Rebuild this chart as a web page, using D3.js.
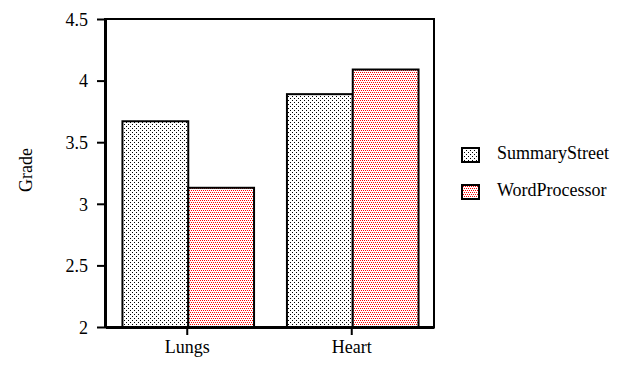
<!DOCTYPE html>
<html><head><meta charset="utf-8">
<script src="https://cdn.jsdelivr.net/npm/d3@7"></script>
<style>
html,body{margin:0;padding:0;background:#fff;}
text{font-family:"Liberation Serif","Times New Roman","DejaVu Serif",serif;font-size:18px;fill:#000;}
</style></head>
<body><svg id="c" width="644" height="367"></svg>
<script>
const categories = ["Lungs","Heart"];
const seriesNames = ["SummaryStreet","WordProcessor"];
const summaryStreet = [3.67, 3.89];
const wordProcessor = [3.13, 4.09];
const yTicks = [2, 2.5, 3, 3.5, 4, 4.5];
const yTickLabels = ["2","2.5","3","3.5","4","4.5"];

const FONT = '"Liberation Serif","Times New Roman","DejaVu Serif",serif';
const svg = d3.select("#c");
const defs = svg.append("defs");
const p1 = defs.append("pattern").attr("id","pSS").attr("patternUnits","userSpaceOnUse").attr("width",4).attr("height",4);
p1.append("rect").attr("width",4).attr("height",4).attr("fill","#fff");
p1.append("rect").attr("x",0).attr("y",0).attr("width",1).attr("height",1).attr("fill","#000");
p1.append("rect").attr("x",2).attr("y",2).attr("width",1).attr("height",1).attr("fill","#000");
const p2 = defs.append("pattern").attr("id","pWP").attr("patternUnits","userSpaceOnUse").attr("width",4).attr("height",4);
p2.append("rect").attr("width",4).attr("height",4).attr("fill","#fff");
[[0,0],[2,0],[1,2],[3,2]].forEach(([x,y])=>p2.append("rect").attr("x",x).attr("y",y).attr("width",1).attr("height",1).attr("fill","#f00"));
const fills = ["url(#pSS)","url(#pWP)"];

const L=105, R=434, T=19, B=327;
const x0 = d3.scaleBand().domain(categories).range([L,R]).paddingInner(0.2).paddingOuter(0.1);
const x1 = d3.scaleBand().domain(seriesNames).range([1,x0.bandwidth()+1]);
const y = d3.scaleLinear().domain([2,4.5]).range([B,T]);

const data = categories.map((c,i)=>({cat:c, vals:[summaryStreet[i], wordProcessor[i]]}));

// frame
svg.append("rect").attr("x",L).attr("y",T).attr("width",R-L).attr("height",B-T)
  .attr("fill","none").attr("stroke","#000").attr("stroke-width",2);

// bars
const g = svg.append("g");
data.forEach(d=>{
  d.vals.forEach((v,j)=>{
    g.append("rect")
      .attr("x", x0(d.cat)+x1(seriesNames[j]))
      .attr("y", y(v))
      .attr("width", x1.bandwidth())
      .attr("height", y(2)-y(v))
      .attr("fill", fills[j]).attr("stroke","#000").attr("stroke-width",2);
  });
});

// y axis
const ya = svg.append("g").attr("transform",`translate(${L},0)`)
  .call(d3.axisLeft(y).tickValues(yTicks).tickFormat((d,i)=>yTickLabels[i]).tickSize(8).tickSizeOuter(0).tickPadding(9));
ya.attr("font-family",null).attr("font-size",null);
ya.select(".domain").attr("stroke","#000").attr("stroke-width",3);
ya.selectAll(".tick line").attr("stroke","#000").attr("stroke-width",2);
ya.selectAll("text").style("font-family",FONT).style("font-size","18px").attr("dy","0.35em");

// x axis
const xa = svg.append("g").attr("transform",`translate(0,${B})`)
  .call(d3.axisBottom(x0).tickSize(8).tickSizeOuter(0).tickPadding(5));
xa.attr("font-family",null).attr("font-size",null);
xa.select(".domain").attr("stroke","#000").attr("stroke-width",3);
xa.selectAll(".tick line").attr("stroke","#000").attr("stroke-width",2);
xa.selectAll("text").style("font-family",FONT).style("font-size","18px");

// y title
svg.append("text").attr("transform","translate(32,170) rotate(-90)").attr("text-anchor","middle").text("Grade");

// legend
const lg = svg.append("g");
seriesNames.forEach((s,i)=>{
  const yy = 148 + i*37;
  lg.append("rect").attr("x",462).attr("y",yy).attr("width",17).attr("height",14)
    .attr("fill",fills[i]).attr("stroke","#000").attr("stroke-width",2);
  lg.append("text").attr("x",497).attr("y",yy+11).text(s);
});
</script></body></html>
